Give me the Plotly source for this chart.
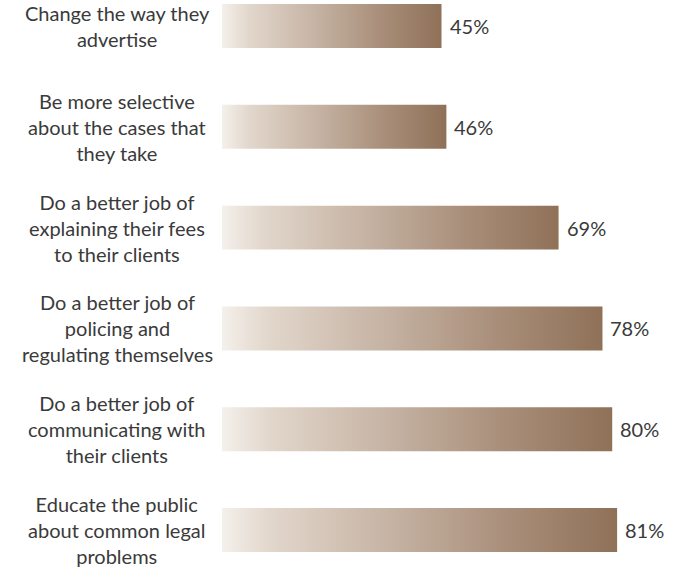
import plotly.graph_objects as go

# Survey responses: what lawyers should do
categories = [
    "Change the way they<br>advertise",
    "Be more selective<br>about the cases that<br>they take",
    "Do a better job of<br>explaining their fees<br>to their clients",
    "Do a better job of<br>policing and<br>regulating themselves",
    "Do a better job of<br>communicating with<br>their clients",
    "Educate the public<br>about common legal<br>problems",
]
values = [45, 46, 69, 78, 80, 81]

TEXT_COLOR = "#3a3a3a"
FONT = "Lato"
HALF = 0.218  # half bar thickness in category units

gradient = [
    [0.0, "#f4f0eb"],
    [0.12, "#e2d7cc"],
    [0.45, "#c3b0a0"],
    [0.75, "#a68b76"],
    [1.0, "#8f7158"],
]

fig = go.Figure()

for i, v in enumerate(values):
    fig.add_trace(go.Scatter(
        x=[0, v, v, 0, 0],
        y=[i - HALF, i - HALF, i + HALF, i + HALF, i - HALF],
        mode="lines",
        line=dict(width=0),
        fill="toself",
        fillgradient=dict(type="horizontal", colorscale=gradient),
        hoverinfo="skip",
        showlegend=False,
    ))

# value labels just past the end of each bar
for i, v in enumerate(values):
    fig.add_annotation(
        x=v, xref="x", y=i, yref="y",
        text=f"{v}%", showarrow=False, xanchor="left", yanchor="middle",
        xshift=6,
        font=dict(family=FONT, size=20, color=TEXT_COLOR),
    )

# centered multi-line category labels
for i, c in enumerate(categories):
    fig.add_annotation(
        x=-0.239, xref="paper", y=i, yref="y",
        text=c, showarrow=False, xanchor="center", yanchor="middle",
        align="center",
        font=dict(family=FONT, size=20, color=TEXT_COLOR),
    )

fig.update_layout(
    width=683, height=567,
    margin=dict(l=222, r=22, t=0, b=0),
    paper_bgcolor="white", plot_bgcolor="white",
    xaxis=dict(range=[0, 90], visible=False),
    yaxis=dict(range=[5.367, -0.258], visible=False),
)

fig.write_html("out.html")
